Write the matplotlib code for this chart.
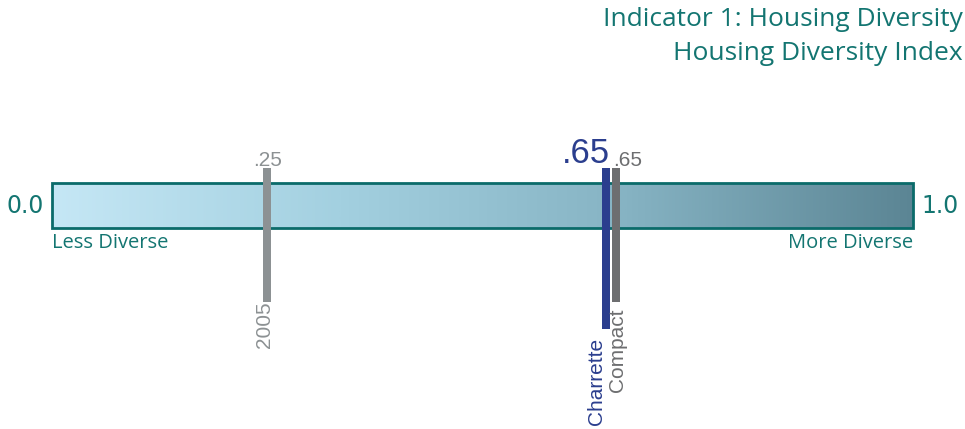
import numpy as np
import matplotlib
matplotlib.use("Agg")
import matplotlib.pyplot as plt
from matplotlib.colors import LinearSegmentedColormap
from matplotlib.patches import Rectangle

# Index scale and markers
scale_min, scale_max = 0.0, 1.0
scale_labels = ["0.0", "1.0"]
end_labels = ["Less Diverse", "More Diverse"]
marker_names = ["2005", "Charrette", "Compact"]
marker_values = [0.25, 0.65, 0.65]
marker_text = [".25", ".65", ".65"]
title_lines = ["Indicator 1: Housing Diversity", "Housing Diversity Index"]

TEAL = "#137571"
W, H = 965, 429
fig = plt.figure(figsize=(W / 100, H / 100), dpi=100)
ax = fig.add_axes([0, 0, 1, 1])
# horizontal axis in index units, vertical axis in pixel rows
px = 1 / 861.0
ax.set_xlim(scale_min - 52 * px, scale_max + 52 * px)
ax.set_ylim(H, 0)
ax.axis("off")

font = "Open Sans"

# Gradient bar
cmap = LinearSegmentedColormap.from_list(
    "bar", ["#c5e7f5", "#a3d0e0", "#86b3c3", "#5b8594"])
grad = np.linspace(0, 1, 512).reshape(1, -1)
bar_top, bar_bot = 183, 228
ax.imshow(grad, cmap=cmap, aspect="auto",
          extent=[scale_min, scale_max, bar_bot, bar_top], zorder=1)
ax.add_patch(Rectangle((scale_min, bar_top), scale_max - scale_min,
                       bar_bot - bar_top, fill=False, edgecolor="#0b6b6a",
                       linewidth=2.0, zorder=2))

# End labels
ax.text(scale_min - 8 * px, 206, scale_labels[0], ha="right", va="center",
        fontsize=17, color=TEAL, family="DejaVu Sans")
ax.text(scale_max + 8 * px, 206, scale_labels[1], ha="left", va="center",
        fontsize=17, color=TEAL, family="DejaVu Sans")
ax.text(scale_min, 243, end_labels[0], ha="left", va="center",
        fontsize=14.5, color=TEAL, family=font)
ax.text(scale_max, 243, end_labels[1], ha="right", va="center",
        fontsize=14.5, color=TEAL, family=font)

# Markers: (dodge px, name-label shift px, name gap px, bottom row,
#           colour, value-label size)
styles = [
    (0, -3, -1, 302, "#8c9193", 15),
    (-6, -9, 9, 329, "#2b3e8e", 25),
    (4, 2, 6, 302, "#6d6e70", 15),
]
mark_w = 8 * px
for name, val, txt, (dx, lx, gap, bottom, col, vsize) in zip(
        marker_names, marker_values, marker_text, styles):
    xc = val + dx * px
    ax.add_patch(Rectangle((xc - mark_w / 2, 168), mark_w, bottom - 168,
                           facecolor=col, edgecolor="none", zorder=3))
    ax.text(xc + lx * px, bottom + gap, name, rotation=90, ha="center",
            va="top", fontsize=15, color=col, family="Liberation Sans")
    if dx < 0:
        ax.text(xc + 4 * px, 170, txt, ha="right", va="bottom",
                fontsize=vsize, color=col, family="Liberation Sans")
    elif dx > 0:
        ax.text(xc - 3 * px, 170, txt, ha="left", va="bottom",
                fontsize=vsize, color=col, family="Liberation Sans")
    else:
        ax.text(xc, 170, txt, ha="center", va="bottom",
                fontsize=vsize, color=col, family="Liberation Sans")

# Titles
fig.text(963 / W, 1 - 19 / H, title_lines[0], ha="right", va="center",
         fontsize=19, color=TEAL, family=font)
fig.text(963 / W, 1 - 53 / H, title_lines[1], ha="right", va="center",
         fontsize=19, color=TEAL, family=font)

fig.savefig("out.png", dpi=100)
